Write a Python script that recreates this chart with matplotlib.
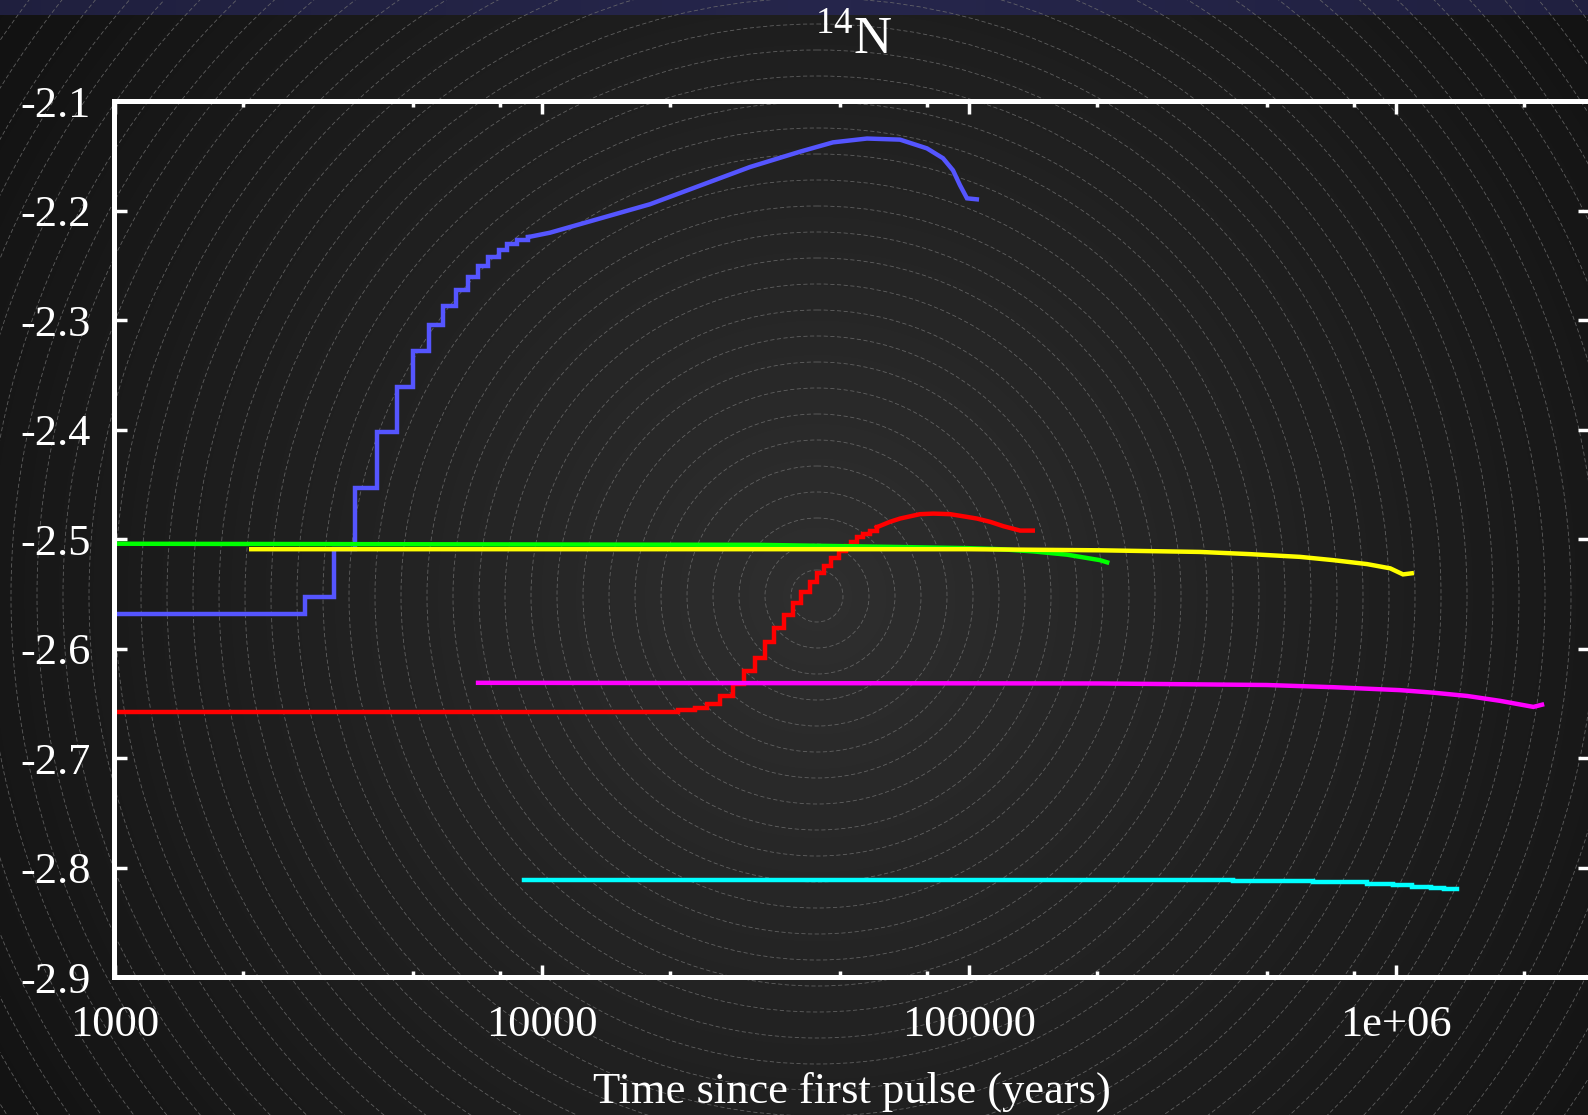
import numpy as np
import matplotlib
matplotlib.use("Agg")
import matplotlib.pyplot as plt
from matplotlib.patches import Circle
from matplotlib.ticker import FixedLocator, NullFormatter

plt.rcParams['font.family'] = ['Liberation Serif', 'DejaVu Serif']
plt.rcParams['mathtext.fontset'] = 'custom'
plt.rcParams['mathtext.rm'] = 'Liberation Serif'

# ---- data ----
# blue: staircase part, then smooth part
blue_step_x = [1000, 2790, 3270, 3650, 4110, 4590, 5010, 5460, 5870, 6300, 6730, 7100,
               7500, 7930, 8280, 8750, 9300]
blue_step_y = [-2.568, -2.553, -2.509, -2.453, -2.402, -2.361, -2.328, -2.304, -2.287,
               -2.272, -2.260, -2.250, -2.242, -2.236, -2.230, -2.227, -2.224]
blue_x = [9300, 10460, 13700, 17940, 23490, 30760, 40280, 48120, 57800, 69060, 79880,
          87090, 91900, 95400, 99100, 104500]
blue_y = [-2.224, -2.220, -2.207, -2.194, -2.177, -2.160, -2.146, -2.1375, -2.134, -2.135,
          -2.143, -2.152, -2.163, -2.1765, -2.1886, -2.1895]

red_step_x = [1000, 20900, 22880, 24450, 26170, 28040, 29800, 31620, 33430, 35100, 36960,
              38890, 40600, 42400, 44100, 45900, 47600, 49600, 51600, 53000, 54700,
              56700, 58800, 60900]
red_step_y = [-2.658, -2.656, -2.654, -2.650, -2.643, -2.632, -2.620, -2.608, -2.594,
              -2.581, -2.569, -2.558, -2.548, -2.539, -2.531, -2.524, -2.517, -2.511,
              -2.506, -2.502, -2.498, -2.495, -2.492, -2.489]
red_x = [60900, 65400, 69100, 72900, 76900, 82700, 90500, 97300, 104500, 112300, 120600,
         132000, 141300]
red_y = [-2.489, -2.484, -2.481, -2.479, -2.477, -2.4765, -2.477, -2.479, -2.481, -2.484,
         -2.488, -2.492, -2.492]

green_x = [1000, 32000, 46700, 69000, 99000, 118500, 141600, 170000, 203000, 211000]
green_y = [-2.504, -2.505, -2.506, -2.507, -2.508, -2.509, -2.511, -2.514, -2.519, -2.521]

yellow_x = [2090, 100000, 203000, 348600, 456000, 597000, 714000, 857000, 971000,
            1040000, 1090000]
yellow_y = [-2.509, -2.509, -2.510, -2.5115, -2.5135, -2.516, -2.519, -2.5226, -2.5265,
            -2.532, -2.531]

magenta_x = [7100, 203000, 499000, 714000, 1024000, 1224000, 1470000, 1757000, 2100000,
             2200000]
magenta_y = [-2.631, -2.6316, -2.633, -2.635, -2.6377, -2.640, -2.643, -2.6475, -2.653,
             -2.651]

cyan_x = [9120, 416000, 640000, 857000, 986000, 1090000, 1210000, 1300000, 1390000]
cyan_y = [-2.8113, -2.812, -2.813, -2.8145, -2.816, -2.817, -2.818, -2.819, -2.819]

series = [
    (blue_step_x, blue_step_y, '#5555ff', 'steps-post'),
    (blue_x, blue_y, '#5555ff', 'default'),
    (red_step_x, red_step_y, '#ff0000', 'steps-post'),
    (red_x, red_y, '#ff0000', 'default'),
    (green_x, green_y, '#00ff00', 'default'),
    (yellow_x, yellow_y, '#ffff00', 'default'),
    (magenta_x, magenta_y, '#ff00ff', 'default'),
    (cyan_x, cyan_y, '#00ffff', 'steps-post'),
]

x_major = [1000, 10000, 100000, 1000000]
x_major_labels = ['1000', '10000', '100000', '1e+06']
x_minor = [m * d for d in [1000, 10000, 100000, 1000000] for m in (2, 5, 8)]
y_ticks = [-2.9, -2.8, -2.7, -2.6, -2.5, -2.4, -2.3, -2.2, -2.1]
y_labels = ['-2.9', '-2.8', '-2.7', '-2.6', '-2.5', '-2.4', '-2.3', '-2.2', '-2.1']

W, H = 1588, 1115
fig = plt.figure(figsize=(W / 100, H / 100), dpi=100)
fig.patch.set_facecolor('#1a1a1a')

# ---- background: radial gradient + concentric dashed rings ----
bg = fig.add_axes([0, 0, 1, 1], zorder=-5)
cx, cy = 817, 596
yy, xx = np.mgrid[0:H, 0:W]
r = np.hypot(xx - cx, yy - cy)
v = np.clip(47 - 29 * r / 1000, 14, 47) / 255.0
img = np.dstack([v, v, v])
# top navy strip
strip = 15
sx = np.abs(np.arange(W) - 850) / 850.0
navy = np.clip(1 - 0.45 * sx, 0, 1)
img[:strip, :, 0] = (24 + 14 * navy) / 255.0
img[:strip, :, 1] = (24 + 14 * navy) / 255.0
img[:strip, :, 2] = (46 + 30 * navy) / 255.0
bg.imshow(img, extent=(0, W, H, 0), interpolation='bilinear')
for rad in np.arange(26, 1100, 26):
    bg.add_patch(Circle((cx, cy), rad, fill=False, ec='#707070', lw=0.6,
                        ls=(0, (5, 3)), alpha=0.8))
bg.set_xlim(0, W)
bg.set_ylim(H, 0)
bg.axis('off')

# ---- main axes ----
ax = fig.add_axes([114.5 / W, 1 - 977.4 / H, (1590 - 114.5) / W, (977.4 - 101.3) / H])
ax.set_facecolor('none')
for x, y, c, ds in series:
    ax.plot(x, y, color=c, lw=3.2, drawstyle=ds, solid_joinstyle='miter')

ax.set_xscale('log')
ax.set_xlim(1000, 2.85e6)
ax.set_ylim(-2.9, -2.1)
ax.xaxis.set_major_locator(FixedLocator(x_major))
ax.set_xticklabels(x_major_labels)
ax.xaxis.set_minor_locator(FixedLocator(x_minor))
ax.xaxis.set_minor_formatter(NullFormatter())
ax.set_yticks(y_ticks)
ax.set_yticklabels(y_labels)
ax.yaxis.set_minor_locator(FixedLocator([]))

for s in ax.spines.values():
    s.set_color('white')
    s.set_linewidth(3.6)
ax.tick_params(which='both', direction='in', colors='white', top=True, right=True,
               labelsize=32)
ax.tick_params(which='major', length=9, width=2.5)
ax.tick_params(which='minor', length=4.5, width=2.5)
ax.tick_params(axis='y', pad=17)
ax.tick_params(axis='x', pad=20)

ax.set_xlabel('Time since first pulse (years)', color='white', fontsize=32, labelpad=19)
fig.text(854 / W, 1 - 53 / H, r'$^{14}$N', color='white', fontsize=38,
         ha='center', va='baseline')

fig.savefig('out.png', dpi=100, facecolor=fig.get_facecolor())
